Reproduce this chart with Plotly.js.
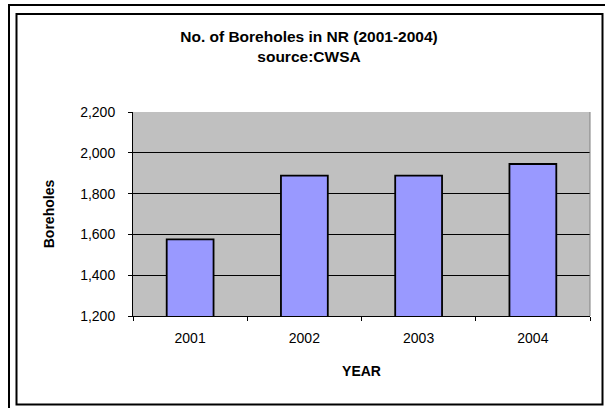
<!DOCTYPE html>
<html>
<head>
<meta charset="utf-8">
<script src="https://cdn.plot.ly/plotly-3.0.1.min.js"></script>
<style>
  html, body { margin: 0; padding: 0; background: #fff; }
  #chart { width: 605px; height: 408px; }
</style>
</head>
<body>
<div id="chart"></div>
<script>
// Boreholes in NR by year (source: CWSA)
const years = ['2001', '2002', '2003', '2004'];
const boreholes = [1576, 1888, 1888, 1945];
const yTicks = [1200, 1400, 1600, 1800, 2000, 2200];

const W = 605, H = 408;
const M = { l: 133, r: 15, t: 112, b: 92 };
const pw = W - M.l - M.r, ph = H - M.t - M.b;
// pixel position -> paper coordinates, for the frame lines
const px = x => (x - M.l) / pw;
const py = y => (H - M.b - y) / ph;

const font = 'Liberation Sans, Arial, sans-serif';

const trace = {
  type: 'bar',
  x: years,
  y: boreholes,
  width: 0.41,
  marker: { color: '#9999FF', line: { color: '#000000', width: 1.8 } },
  hoverinfo: 'skip'
};

const layout = {
  width: W,
  height: H,
  margin: M,
  paper_bgcolor: '#ffffff',
  plot_bgcolor: '#C0C0C0',
  showlegend: false,
  font: { family: font, color: '#000000', size: 14 },
  title: {
    text: '<b>No. of Boreholes in NR (2001-2004)<br>source:CWSA</b>',
    font: { family: font, size: 15.5, color: '#000000' },
    x: 309 / W,
    xanchor: 'center',
    xref: 'container',
    y: 1 - 42 / H,
    yanchor: 'top',
    yref: 'container'
  },
  xaxis: {
    type: 'category',
    tickson: 'boundaries',
    ticks: 'outside',
    ticklen: 4,
    tickcolor: '#000000',
    tickwidth: 1,
    showline: true,
    linecolor: '#000000',
    linewidth: 1,
    showgrid: false,
    zeroline: false,
    ticklabelstandoff: 9,
    tickfont: { family: font, size: 14, color: '#000000' },
    title: { text: '<b>YEAR</b>', font: { family: font, size: 14, color: '#000000' }, standoff: 21 },
    fixedrange: true
  },
  yaxis: {
    range: [1200, 2200],
    tickvals: yTicks,
    tickformat: ',d',
    ticks: 'outside',
    ticklen: 4,
    tickcolor: '#000000',
    tickwidth: 1,
    showline: true,
    linecolor: '#000000',
    linewidth: 1,
    showgrid: true,
    gridcolor: '#000000',
    gridwidth: 1,
    zeroline: false,
    ticklabelstandoff: 10,
    tickfont: { family: font, size: 14, color: '#000000' },
    title: { text: '<b>Boreholes</b>', font: { family: font, size: 14, color: '#000000' }, standoff: 22 },
    fixedrange: true
  },
  shapes: [
    // right edge of the plot area
    { type: 'line', xref: 'paper', yref: 'paper', x0: 1, x1: 1, y0: 0, y1: 1,
      line: { color: '#808080', width: 1 } },
    // outer frame (runs off the right and bottom edges)
    { type: 'rect', xref: 'paper', yref: 'paper',
      x0: px(9), x1: px(612), y0: py(5), y1: py(415),
      line: { color: '#000000', width: 2 }, layer: 'above' },
    // chart area border
    { type: 'rect', xref: 'paper', yref: 'paper',
      x0: px(16.5), x1: px(602.5), y0: py(14), y1: py(404.5),
      line: { color: '#000000', width: 2 }, layer: 'above' }
  ]
};

Plotly.newPlot('chart', [trace], layout, { displayModeBar: false, staticPlot: true });
</script>
</body>
</html>
